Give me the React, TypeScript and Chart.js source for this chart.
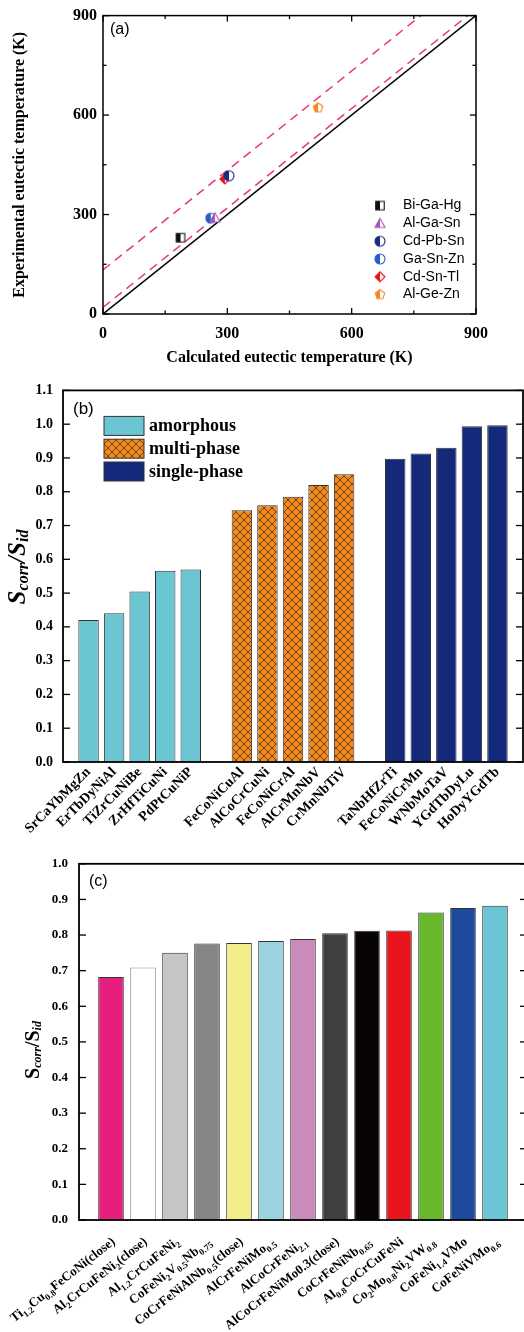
import React, { useEffect, useRef } from 'react';
import { Chart, registerables } from 'chart.js';

Chart.register(...registerables);

const SERIF = '"Liberation Serif", "Times New Roman", serif';
const SANS = '"Liberation Sans", Arial, sans-serif';

// ---------------- Panel (a) data ----------------
const systemNames = ['Bi-Ga-Hg', 'Al-Ga-Sn', 'Cd-Pb-Sn', 'Ga-Sn-Zn', 'Cd-Sn-Tl', 'Al-Ge-Zn'];
const calculatedT = [187, 270, 304, 260, 294, 519];
const experimentalT = [230, 290, 417, 289, 407, 622];
const systemColors = ['#111111', '#A855B5', '#1B2A80', '#2A5CC8', '#E3141C', '#F08A24'];
const systemShapes = ['square', 'triangle', 'circle', 'circle', 'diamond', 'pentagon'];
const tempTicks = [0, 300, 600, 900];
const tempMinorTicks = [150, 450, 750];
const idealLineX = [0, 900];
const idealLineY = [0, 900];
const upperLineX = [0, 767];
const upperLineY = [133, 900];
const lowerLineX = [0, 880];
const lowerLineY = [20, 900];

// ---------------- Panel (b) data ----------------
const amorphousNames = ['SrCaYbMgZn', 'ErTbDyNiAl', 'TiZrCuNiBe', 'ZrHfTiCuNi', 'PdPtCuNiP'];
const amorphousValues = [0.42, 0.44, 0.505, 0.566, 0.57];
const multiNames = ['FeCoNiCuAl', 'AlCoCrCuNi', 'FeCoNiCrAl', 'AlCrMnNbV', 'CrMnNbTiV'];
const multiValues = [0.745, 0.76, 0.785, 0.82, 0.852];
const singleNames = ['TaNbHfZrTi', 'FeCoNiCrMn', 'WNbMoTaV', 'YGdTbDyLu', 'HoDyYGdTb'];
const singleValues = [0.898, 0.913, 0.93, 0.994, 0.997];
const groupNames = ['amorphous', 'multi-phase', 'single-phase'];
const ratioTicksB = [0, 0.1, 0.2, 0.3, 0.4, 0.5, 0.6, 0.7, 0.8, 0.9, 1.0, 1.1];

// ---------------- Panel (c) data ----------------
const alloyLabelsC = [
  'Ti_{1.2}Cu_{0.8}FeCoNi(close)',
  'Al_{2}CrCuFeNi_{2}(close)',
  'Al_{1.2}CrCuFeNi_{2}',
  'CoFeNi_{2}V_{0.5}Nb_{0.75}',
  'CoCrFeNiAlNb_{0.5}(close)',
  'AlCrFeNiMo_{0.5}',
  'AlCoCrFeNi_{2.1}',
  'AlCoCrFeNiMo0.3(close)',
  'CoCrFeNiNb_{0.65}',
  'Al_{0.8}CoCrCuFeNi',
  'Co_{2}Mo_{0.8}Ni_{2}VW_{0.8}',
  'CoFeNi_{1.4}VMo',
  'CoFeNiVMo_{0.6}',
];
const valuesC = [0.682, 0.709, 0.75, 0.776, 0.778, 0.783, 0.789, 0.805, 0.812, 0.813, 0.863, 0.876, 0.882];
const colorsC = ['#E61F7E', '#FFFFFF', '#C6C4C5', '#858585', '#F2EF8A', '#9BD3DE', '#C98BBB', '#404040', '#080404', '#E8161C', '#69B82C', '#1D4A9C', '#6CC5D4'];
const ratioTicksC = [0, 0.1, 0.2, 0.3, 0.4, 0.5, 0.6, 0.7, 0.8, 0.9, 1.0];

// ---------------- helpers ----------------
type Seg = { t: string; sub: boolean; w?: number };
function parseRich(s: string): Seg[] {
  const segs: Seg[] = [];
  const re = /_\{([^}]*)\}/g;
  let last = 0;
  let m: RegExpExecArray | null;
  while ((m = re.exec(s))) {
    if (m.index > last) segs.push({ t: s.slice(last, m.index), sub: false });
    segs.push({ t: m[1], sub: true });
    last = re.lastIndex;
  }
  if (last < s.length) segs.push({ t: s.slice(last), sub: false });
  return segs;
}

function drawRich(ctx: CanvasRenderingContext2D, segs: Seg[], mainFont: string, subFont: string, subDy: number, align: 'center' | 'right') {
  let w = 0;
  segs.forEach((s) => {
    ctx.font = s.sub ? subFont : mainFont;
    s.w = ctx.measureText(s.t).width;
    w += s.w;
  });
  let x = align === 'center' ? -w / 2 : -w;
  ctx.textAlign = 'left';
  segs.forEach((s) => {
    ctx.font = s.sub ? subFont : mainFont;
    ctx.fillText(s.t, x, s.sub ? subDy : 0);
    x += s.w || 0;
  });
}

function shapePath(g: CanvasRenderingContext2D, shape: string, cx: number, cy: number, r: number) {
  g.beginPath();
  if (shape === 'square') {
    g.rect(cx - r * 0.85, cy - r * 0.85, r * 1.7, r * 1.7);
  } else if (shape === 'circle') {
    g.arc(cx, cy, r, 0, Math.PI * 2);
  } else if (shape === 'triangle') {
    g.moveTo(cx, cy - r);
    g.lineTo(cx + r, cy + r * 0.8);
    g.lineTo(cx - r, cy + r * 0.8);
    g.closePath();
  } else if (shape === 'diamond') {
    g.moveTo(cx, cy - r);
    g.lineTo(cx + r, cy);
    g.lineTo(cx, cy + r);
    g.lineTo(cx - r, cy);
    g.closePath();
  } else if (shape === 'pentagon') {
    for (let i = 0; i < 5; i++) {
      const a = -Math.PI / 2 + (i * 2 * Math.PI) / 5;
      const px = cx + r * Math.cos(a);
      const py = cy + r * Math.sin(a);
      if (i === 0) g.moveTo(px, py);
      else g.lineTo(px, py);
    }
    g.closePath();
  }
}

function makeMarker(shape: string, color: string): HTMLCanvasElement {
  const s = 14;
  const c = document.createElement('canvas');
  c.width = s;
  c.height = s;
  const g = c.getContext('2d')!;
  const cx = s / 2;
  const cy = s / 2;
  const r = 5;
  shapePath(g, shape, cx, cy, r);
  g.fillStyle = '#fff';
  g.fill();
  g.save();
  g.clip();
  g.fillStyle = color;
  g.fillRect(0, 0, cx, s);
  g.restore();
  shapePath(g, shape, cx, cy, r);
  g.strokeStyle = color;
  g.lineWidth = 1.1;
  g.stroke();
  return c;
}

function makeCrossHatch(): CanvasPattern | string {
  const c = document.createElement('canvas');
  c.width = 8;
  c.height = 8;
  const g = c.getContext('2d')!;
  g.fillStyle = '#F28A1E';
  g.fillRect(0, 0, 8, 8);
  g.strokeStyle = '#3a2410';
  g.lineWidth = 0.7;
  g.beginPath();
  g.moveTo(0, 0);
  g.lineTo(8, 8);
  g.moveTo(8, 0);
  g.lineTo(0, 8);
  g.stroke();
  const p = g.createPattern(c, 'repeat');
  return p || '#F28A1E';
}

function framePlugin(id: string, o: { xMajor?: number[]; xMinor?: number[]; yMajor: number[]; yMinor?: number[]; lw: number; major: number; minor: number }) {
  return {
    id,
    afterDatasetsDraw(chart: any) {
      const { ctx, chartArea: a, scales } = chart;
      ctx.save();
      ctx.strokeStyle = '#000';
      ctx.lineWidth = o.lw;
      ctx.strokeRect(a.left, a.top, a.right - a.left, a.bottom - a.top);
      ctx.lineWidth = 1.3;
      const ln = (x1: number, y1: number, x2: number, y2: number) => {
        ctx.beginPath();
        ctx.moveTo(x1, y1);
        ctx.lineTo(x2, y2);
        ctx.stroke();
      };
      const xs = (vals: number[] | undefined, len: number) =>
        (vals || []).forEach((v) => {
          const px = scales.x.getPixelForValue(v);
          ln(px, a.bottom, px, a.bottom - len);
          ln(px, a.top, px, a.top + len);
        });
      const ys = (vals: number[] | undefined, len: number) =>
        (vals || []).forEach((v) => {
          const py = scales.y.getPixelForValue(v);
          ln(a.left, py, a.left + len, py);
          ln(a.right, py, a.right - len, py);
        });
      xs(o.xMajor, o.major);
      xs(o.xMinor, o.minor);
      ys(o.yMajor, o.major);
      ys(o.yMinor, o.minor);
      ctx.restore();
    },
  };
}

function ratioTitle(ctx: CanvasRenderingContext2D, x: number, y: number, mainFont: string, subFont: string, italicMain: boolean, subDy: number) {
  ctx.save();
  ctx.translate(x, y);
  ctx.rotate(-Math.PI / 2);
  ctx.fillStyle = '#000';
  ctx.textBaseline = 'middle';
  const segs: Seg[] = [
    { t: 'S', sub: false },
    { t: 'corr', sub: true },
    { t: '/S', sub: false },
    { t: 'id', sub: true },
  ];
  drawRich(ctx, segs, (italicMain ? 'italic ' : '') + mainFont, subFont, subDy, 'center');
  ctx.restore();
}

// ---------------- configs ----------------
function configA(): any {
  const markers = systemShapes.map((s, i) => makeMarker(s, systemColors[i]));
  const pointSets = systemNames.map((name, i) => ({
    label: name,
    data: [{ x: calculatedT[i], y: experimentalT[i] }],
    pointStyle: markers[i],
    pointRadius: 5,
    showLine: false,
  }));
  const toPts = (xs: number[], ys: number[]) => xs.map((x, i) => ({ x, y: ys[i] }));
  const lineSets = [
    { label: 'ideal', data: toPts(idealLineX, idealLineY), showLine: true, borderColor: '#000', borderWidth: 1.5, pointRadius: 0 },
    { label: 'upper', data: toPts(upperLineX, upperLineY), showLine: true, borderColor: '#E8358A', borderWidth: 1.5, borderDash: [9, 6], pointRadius: 0 },
    { label: 'lower', data: toPts(lowerLineX, lowerLineY), showLine: true, borderColor: '#E8358A', borderWidth: 1.5, borderDash: [9, 6], pointRadius: 0 },
  ];
  const annot = {
    id: 'annotA',
    afterDraw(chart: any) {
      const { ctx, chartArea: a } = chart;
      ctx.save();
      ctx.fillStyle = '#000';
      ctx.textBaseline = 'middle';
      ctx.font = `16px ${SANS}`;
      ctx.textAlign = 'left';
      ctx.fillText('(a)', a.left + 7, a.top + 14);
      // legend
      ctx.font = `14px ${SANS}`;
      markers.forEach((m, i) => {
        const y = a.top + 190 + i * 17.8;
        ctx.drawImage(m, a.left + 277 - m.width / 2, y - m.height / 2);
        ctx.fillText(systemNames[i], a.left + 300, y);
      });
      // axis titles
      ctx.font = `bold 16px ${SERIF}`;
      ctx.textAlign = 'center';
      ctx.fillText('Calculated eutectic temperature (K)', (a.left + a.right) / 2, 358);
      ctx.translate(20, (a.top + a.bottom) / 2);
      ctx.rotate(-Math.PI / 2);
      ctx.fillText('Experimental eutectic temperature (K)', 0, 0);
      ctx.restore();
    },
  };
  return {
    type: 'scatter',
    data: { datasets: [...pointSets, ...lineSets] },
    options: {
      responsive: false,
      animation: false,
      layout: { padding: { top: 14, right: 48, left: 0, bottom: 0 } },
      plugins: { legend: { display: false }, tooltip: { enabled: false } },
      scales: {
        x: {
          type: 'linear',
          min: 0,
          max: 900,
          grid: { display: false, drawTicks: false },
          border: { display: false },
          afterBuildTicks: (ax: any) => { ax.ticks = tempTicks.map((v) => ({ value: v })); },
          afterFit: (ax: any) => { ax.height = 66; },
          ticks: { padding: 10, color: '#000', font: { family: SERIF, size: 16, weight: 'bold' } },
        },
        y: {
          type: 'linear',
          min: 0,
          max: 900,
          grid: { display: false, drawTicks: false },
          border: { display: false },
          afterBuildTicks: (ax: any) => { ax.ticks = tempTicks.map((v) => ({ value: v })); },
          afterFit: (ax: any) => { ax.width = 103; },
          ticks: { padding: 6, color: '#000', font: { family: SERIF, size: 16, weight: 'bold' } },
        },
      },
    },
    plugins: [framePlugin('frameA', { xMajor: tempTicks, xMinor: tempMinorTicks, yMajor: tempTicks, yMinor: tempMinorTicks, lw: 1.5, major: 6, minor: 3.5 }), annot],
  };
}

function configB(): any {
  const labels = ['', ...amorphousNames, '', ...multiNames, '', ...singleNames, ''];
  const n = labels.length;
  const series = (start: number, vals: number[]) => {
    const d: (number | null)[] = new Array(n).fill(null);
    vals.forEach((v, i) => { d[start + i] = v; });
    return d;
  };
  const hatch = makeCrossHatch();
  const fills = ['#6CC5D2', hatch, '#14297A'];
  const datasets = [
    { label: groupNames[0], data: series(1, amorphousValues), backgroundColor: fills[0] },
    { label: groupNames[1], data: series(7, multiValues), backgroundColor: fills[1] },
    { label: groupNames[2], data: series(13, singleValues), backgroundColor: fills[2] },
  ].map((d) => ({ ...d, borderColor: '#333', borderWidth: 1, grouped: false, categoryPercentage: 1, barPercentage: 0.8 }));
  const annot = {
    id: 'annotB',
    afterDraw(chart: any) {
      const { ctx, chartArea: a } = chart;
      ctx.save();
      ctx.fillStyle = '#000';
      ctx.textBaseline = 'middle';
      ctx.textAlign = 'left';
      ctx.font = `17px ${SANS}`;
      ctx.fillText('(b)', a.left + 10, a.top + 19);
      ctx.font = `bold 18px ${SERIF}`;
      groupNames.forEach((g, i) => {
        const y = a.top + 26 + i * 22.8;
        ctx.fillStyle = fills[i] as any;
        ctx.fillRect(a.left + 41, y, 40, 19);
        ctx.strokeStyle = '#333';
        ctx.lineWidth = 1;
        ctx.strokeRect(a.left + 41, y, 40, 19);
        ctx.fillStyle = '#000';
        ctx.fillText(g, a.left + 86, y + 10);
      });
      ctx.restore();
      ratioTitle(ctx, 19, 567 - 372, `bold 25px ${SERIF}`, `italic bold 16px ${SERIF}`, true, 5);
    },
  };
  return {
    type: 'bar',
    data: { labels, datasets },
    options: {
      responsive: false,
      animation: false,
      layout: { padding: { top: 16, right: 1, left: 0, bottom: 0 } },
      plugins: { legend: { display: false }, tooltip: { enabled: false } },
      scales: {
        x: {
          type: 'category',
          offset: false,
          grid: { display: false, drawTicks: false },
          border: { display: false },
          afterFit: (ax: any) => { ax.height = 108; ax.paddingLeft = 0; ax.paddingRight = 0; },
          ticks: { autoSkip: false, minRotation: 45, maxRotation: 45, padding: 2, color: '#000', font: { family: SERIF, size: 14, weight: 'bold' } },
        },
        y: {
          type: 'linear',
          min: 0,
          max: 1.1,
          grid: { display: false, drawTicks: false },
          border: { display: false },
          afterBuildTicks: (ax: any) => { ax.ticks = ratioTicksB.map((v) => ({ value: v })); },
          afterFit: (ax: any) => { ax.width = 63; },
          ticks: { padding: 10, color: '#000', font: { family: SERIF, size: 14, weight: 'bold' }, callback: (v: any) => Number(v).toFixed(1) },
        },
      },
    },
    plugins: [framePlugin('frameB', { yMajor: ratioTicksB, lw: 1.8, major: 7, minor: 0 }), annot],
  };
}

function configC(): any {
  const labels = ['', ...alloyLabelsC, ''];
  const data = [null, ...valuesC, null];
  const fills = ['transparent', ...colorsC, 'transparent'];
  const borders = fills.map((c) => (c === '#FFFFFF' ? '#8a8a8a' : '#333'));
  const annot = {
    id: 'annotC',
    afterDraw(chart: any) {
      const { ctx, chartArea: a, scales } = chart;
      ctx.save();
      ctx.fillStyle = '#000';
      ctx.textBaseline = 'middle';
      ctx.textAlign = 'left';
      ctx.font = `16px ${SANS}`;
      ctx.fillText('(c)', a.left + 10, a.top + 18);
      ctx.textBaseline = 'alphabetic';
      const mainFont = `bold 13px ${SERIF}`;
      const subFont = `bold 9px ${SERIF}`;
      alloyLabelsC.forEach((lab, i) => {
        const px = scales.x.getPixelForValue(i + 1);
        ctx.save();
        ctx.translate(px + 5, a.bottom + 23);
        ctx.rotate((-38 * Math.PI) / 180);
        drawRich(ctx, parseRich(lab), mainFont, subFont, 3.5, 'right');
        ctx.restore();
      });
      ctx.restore();
      ratioTitle(ctx, 34, 1050 - 845, `bold 20px ${SERIF}`, `italic bold 12px ${SERIF}`, false, 4);
    },
  };
  return {
    type: 'bar',
    data: {
      labels,
      datasets: [
        {
          label: 'Scorr/Sid',
          data,
          backgroundColor: fills,
          borderColor: borders,
          borderWidth: 1,
          categoryPercentage: 1,
          barPercentage: 0.8,
        },
      ],
    },
    options: {
      responsive: false,
      animation: false,
      layout: { padding: { top: 12, right: 1, left: 0, bottom: 0 } },
      plugins: { legend: { display: false }, tooltip: { enabled: false } },
      scales: {
        x: {
          type: 'category',
          offset: false,
          grid: { display: false, drawTicks: false },
          border: { display: false },
          afterFit: (ax: any) => { ax.height = 112; ax.paddingLeft = 0; ax.paddingRight = 0; },
          ticks: { display: false },
        },
        y: {
          type: 'linear',
          min: 0,
          max: 1.0,
          grid: { display: false, drawTicks: false },
          border: { display: false },
          afterBuildTicks: (ax: any) => { ax.ticks = ratioTicksC.map((v) => ({ value: v })); },
          afterFit: (ax: any) => { ax.width = 79; },
          ticks: { padding: 11, color: '#000', font: { family: SERIF, size: 13, weight: 'bold' }, callback: (v: any) => Number(v).toFixed(1) },
        },
      },
    },
    plugins: [framePlugin('frameC', { yMajor: ratioTicksC, lw: 1.8, major: 7, minor: 0 }), annot],
  };
}

function ChartCanvas({ top, width, height, build }: { top: number; width: number; height: number; build: () => any }) {
  const ref = useRef<HTMLCanvasElement>(null);
  useEffect(() => {
    const chart = new Chart(ref.current as HTMLCanvasElement, build());
    return () => chart.destroy();
  }, []);
  return <canvas ref={ref} width={width} height={height} style={{ position: 'absolute', left: 0, top, width, height }} />;
}

export default function App() {
  return (
    <div style={{ position: 'absolute', left: 0, top: 0, width: 524, height: 1332, background: '#fff', overflow: 'hidden' }}>
      <ChartCanvas top={0} width={524} height={380} build={configA} />
      <ChartCanvas top={372} width={524} height={498} build={configB} />
      <ChartCanvas top={845} width={528} height={487} build={configC} />
    </div>
  );
}
